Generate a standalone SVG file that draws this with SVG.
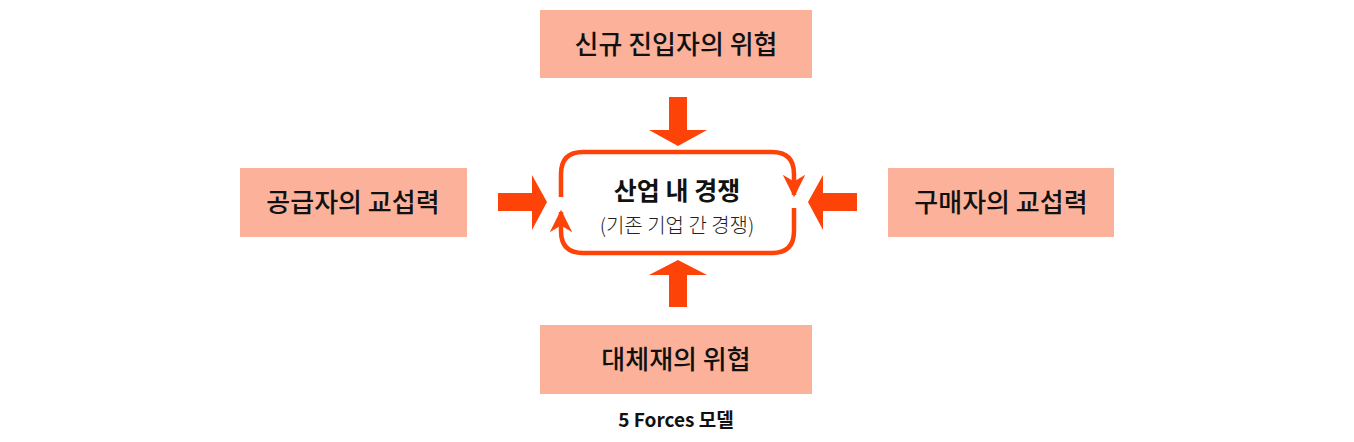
<svg xmlns="http://www.w3.org/2000/svg" width="1354" height="442" viewBox="0 0 1354 442">
<style>
.box{fill:#fcb29a}
.lbl{font-family:"Noto Sans CJK KR","Noto Sans",sans-serif;font-size:26px;font-weight:500;fill:#111;text-anchor:middle}
.ar{fill:#fe4309}
.loop{fill:none;stroke:#fe4309;stroke-width:4.5}
</style>
<defs>
<marker id="v" viewBox="0 0 10 10" refX="9" refY="5" markerWidth="5" markerHeight="5" markerUnits="strokeWidth" orient="auto"><path d="M0,0 L10,5 L0,10 L3,5 Z" fill="#fe4309"/></marker>
</defs>
<rect width="1354" height="442" fill="#fff"/>
<g id="n-top"><rect class="box" x="540" y="10" width="272" height="68"/><text class="lbl" x="676" y="54">신규 진입자의 위협</text></g>
<g id="n-left"><rect class="box" x="240" y="168" width="227" height="69"/><text class="lbl" x="353" y="212">공급자의 교섭력</text></g>
<g id="n-right"><rect class="box" x="888" y="168" width="226" height="69"/><text class="lbl" x="1001" y="212">구매자의 교섭력</text></g>
<g id="n-bottom"><rect class="box" x="540" y="325" width="272" height="69"/><text class="lbl" x="676" y="369">대체재의 위협</text></g>
<g id="n-center">
<text x="677" y="200" style="font-family:'Noto Sans CJK KR',sans-serif;font-size:25px;font-weight:700;fill:#111;text-anchor:middle">산업 내 경쟁</text>
<text x="677" y="233" style="font-family:'Noto Sans CJK KR',sans-serif;font-size:20px;font-weight:300;fill:#222;text-anchor:middle">(기존 기업 간 경쟁)</text>
</g>
<g id="connectors">
<path class="loop" d="M561,197 V174 Q561,152 583,152 H772 Q794,152 794,174 V195" marker-end="url(#v)"/>
<path class="loop" d="M794,208 V231 Q794,253 772,253 H583 Q561,253 561,231 V212" marker-end="url(#v)"/>
<polygon class="ar" points="669,97 687,97 687,130 707,130 678,146 649,130 669,130"/>
<polygon class="ar" points="669,307 687,307 687,275 707,275 678,260 649,275 669,275"/>
<polygon class="ar" points="498,193 532,193 532,175 547,202 532,230 532,211 498,211"/>
<polygon class="ar" points="857,193 823,193 823,175 808,202 823,230 823,211 857,211"/>
</g>
<text x="676" y="427" style="font-family:'Noto Sans CJK KR',sans-serif;font-size:19px;font-weight:700;fill:#111;text-anchor:middle">5 Forces 모델</text>
</svg>
